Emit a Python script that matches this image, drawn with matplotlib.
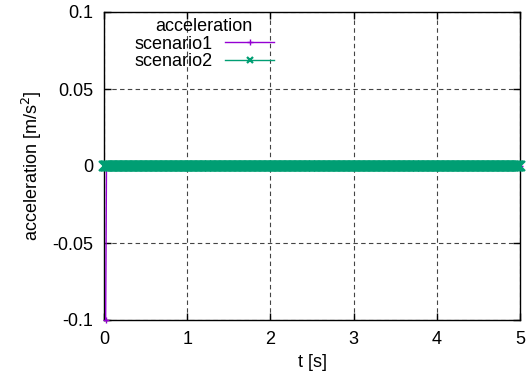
import numpy as np
import matplotlib
matplotlib.use("Agg")
import matplotlib.pyplot as plt

plt.rcParams['font.family'] = ['Liberation Sans', 'DejaVu Sans']

# time grid of the simulation output [s]
t_step = 0.01
t_end = 5.0

# scenario 1: a single -0.1 sample at the start, zero afterwards
s1_t0 = 0.02
s1_first = -0.1
s1_rest = 0.0

# scenario 2: zero acceleration throughout
s2_value = 0.0

t1 = np.arange(s1_t0, t_end + t_step / 2, t_step)
a1 = np.full(t1.shape, s1_rest)
a1[0] = s1_first

t2 = np.arange(0.0, t_end + t_step / 2, t_step)
a2 = np.full(t2.shape, s2_value)

xticks = [0, 1, 2, 3, 4, 5]
yticks = [-0.1, -0.05, 0, 0.05, 0.1]
ytick_labels = ["-0.1", "-0.05", "0", "0.05", "0.1"]

fig = plt.figure(figsize=(5.26, 3.78), dpi=100)
ax = fig.add_axes([104 / 526, 1 - 320 / 378, (520 - 104) / 526, (320 - 12) / 378])

purple = "#9400d3"
green = "#009e73"
fs = 13

ax.plot(t1, a1, color=purple, lw=1.0, marker="+", ms=5, mew=1.0,
        label="scenario1", clip_on=False, zorder=3)
ax.plot(t2, a2, color=green, lw=1.0, marker="x", ms=7, mew=1.6,
        label="scenario2", clip_on=False, zorder=4)

ax.set_xlim(0, 5)
ax.set_ylim(-0.1, 0.1)
ax.set_xticks(xticks)
ax.set_xticklabels([str(x) for x in xticks])
ax.set_yticks(yticks)
ax.set_yticklabels(ytick_labels)
ax.tick_params(direction="in", length=5, width=1, top=True, right=True,
               labelsize=fs, pad=8, colors="black")
ax.grid(True, color="#444444", linestyle=(0, (4, 3)), linewidth=0.8)
for sp in ax.spines.values():
    sp.set_linewidth(1.0)
    sp.set_color("black")

ax.set_xlabel("t [s]", fontsize=fs, labelpad=4)
ax.set_ylabel("acceleration [m/s$^2$]", fontsize=fs, labelpad=6)

leg = ax.legend(title="acceleration", markerfirst=False, frameon=False,
                loc="upper left", bbox_to_anchor=(131 / 526, 1 - 14 / 378),
                bbox_transform=fig.transFigure, fontsize=fs, title_fontsize=fs,
                handlelength=2.7, labelspacing=0.05, borderaxespad=0,
                handletextpad=0.7, borderpad=0.2)
for h in leg.legend_handles:
    h.set_markersize(5)

fig.savefig("out.png", dpi=100)
